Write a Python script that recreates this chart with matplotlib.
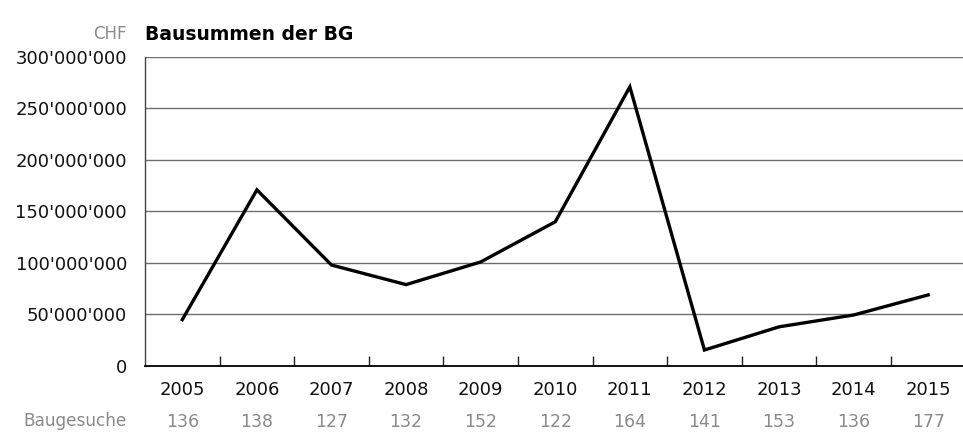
import matplotlib
matplotlib.use("Agg")
import matplotlib.pyplot as plt
import numpy as np

YEARS = ["2005", "2006", "2007", "2008", "2009", "2010", "2011", "2012", "2013", "2014", "2015"]
BAUSUMME = [45e6, 171e6, 98e6, 79e6, 101e6, 140e6, 271e6, 15.5e6, 38e6, 49.5e6, 69e6]
GESUCHE = [136, 138, 127, 132, 152, 122, 164, 141, 153, 136, 177]
YTICKS = [0, 50e6, 100e6, 150e6, 200e6, 250e6, 300e6]

plt.rcParams["font.family"] = ["DejaVu Sans"]
INK = "#111111"
GREY = "#8a8a8a"

fig = plt.figure(figsize=(9.63, 4.36), dpi=100)
ax = fig.add_axes([0.1506, 0.1606, 0.852, 0.7087])

x = np.arange(len(YEARS))
ax.plot(x, BAUSUMME, color="black", lw=2.4, solid_joinstyle="miter", zorder=3)

ax.set_xlim(-0.5, len(YEARS) - 0.5)
ax.set_ylim(0, 300e6)
ax.set_yticks(YTICKS)
ax.set_yticklabels([f"{int(v):,}".replace(",", "'") for v in YTICKS], fontsize=13, color=INK)
ax.tick_params(axis="y", length=0, pad=13)

ax.set_xticks(x)
ax.set_xticklabels(YEARS, fontsize=13, color=INK)
ax.tick_params(axis="x", which="major", length=0, pad=11)
ax.set_xticks(x[:-1] + 0.5, minor=True)
ax.tick_params(axis="x", which="minor", direction="in", length=7, width=1, color="#222222")

ax.yaxis.grid(True, color="#6e6e6e", lw=1)
ax.set_axisbelow(True)
for s in ["top", "right"]:
    ax.spines[s].set_visible(False)
ax.spines["left"].set_color("#444444")
ax.spines["left"].set_linewidth(1)
ax.spines["bottom"].set_color("black")
ax.spines["bottom"].set_linewidth(1.3)

# zweite Zeile: Anzahl Baugesuche
for xi, n in zip(x, GESUCHE):
    ax.text(xi, -0.18, str(n), transform=ax.get_xaxis_transform(),
            ha="center", va="center", fontsize=12.5, color=GREY)
fig.text(127 / 963, 1 - 421 / 436, "Baugesuche", ha="right", va="center",
         fontsize=12.2, color=GREY)

fig.text(127 / 963, 1 - 34 / 436, "CHF", ha="right", va="center", fontsize=12, color=GREY)
fig.text(145 / 963, 1 - 34 / 436, "Bausummen der BG", ha="left", va="center",
         fontsize=13.5, fontweight="bold", color="black")

fig.savefig("out.png", dpi=100, facecolor="white")
